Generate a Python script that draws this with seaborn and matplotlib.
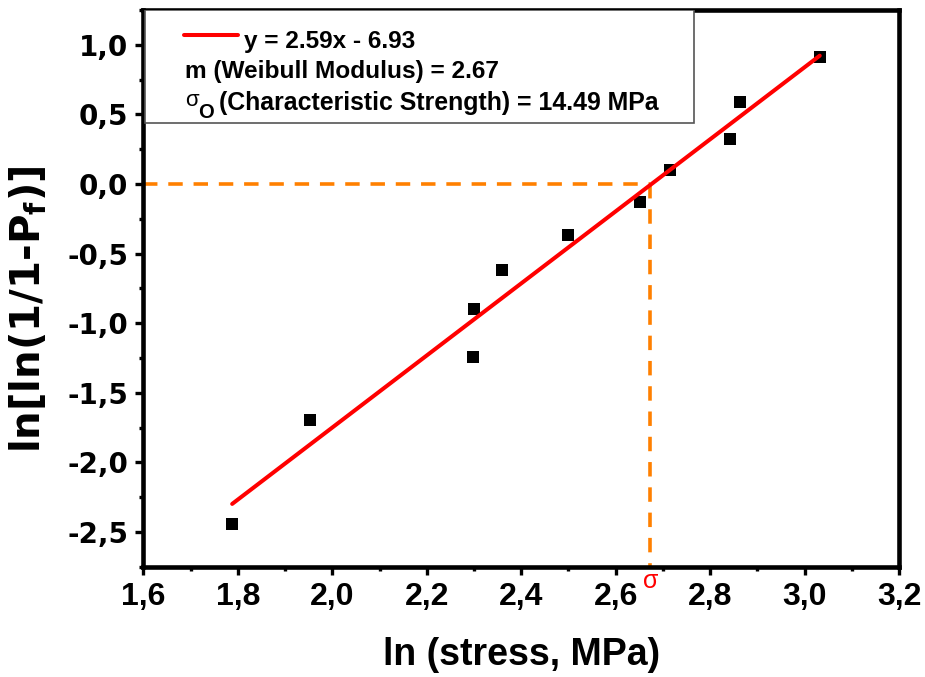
import numpy as np
import matplotlib
matplotlib.use("Agg")
import matplotlib.pyplot as plt
import seaborn as sns
from matplotlib.ticker import MultipleLocator, FuncFormatter
from matplotlib.patches import Rectangle

# Weibull plot data: ln(stress) vs ln(ln(1/(1-Pf)))
ln_stress = [1.788, 1.953, 2.297, 2.301, 2.359, 2.499, 2.651, 2.716, 2.843, 2.863, 3.032]
ln_ln_pf = [-2.440, -1.696, -1.245, -0.900, -0.617, -0.365, -0.127, 0.103, 0.326, 0.587, 0.914]

# Linear fit and derived Weibull parameters
slope = 2.59
intercept = -6.93
weibull_modulus = 2.67
char_strength = 14.49  # MPa

x_ticks = [1.6, 1.8, 2.0, 2.2, 2.4, 2.6, 2.8, 3.0, 3.2]
y_ticks = [-2.5, -2.0, -1.5, -1.0, -0.5, 0.0, 0.5, 1.0]

sns.set_theme(style="ticks")
plt.rcParams["font.family"] = ["Liberation Sans", "DejaVu Sans"]
plt.rcParams.update({
    "font.weight": "bold",
    "text.color": "black",
    "axes.labelcolor": "black",
    "xtick.color": "black",
    "ytick.color": "black",
    "mathtext.fontset": "custom",
    "mathtext.rm": "DejaVu Sans:bold",
    "mathtext.it": "DejaVu Sans:bold",
    "mathtext.bf": "DejaVu Sans:bold",
})

fig = plt.figure(figsize=(9.25, 6.77), dpi=100)
ax = fig.add_axes([0.155, 0.163, 0.817, 0.822])

sns.scatterplot(x=ln_stress, y=ln_ln_pf, marker="s", s=74, color="black",
                linewidth=0, ax=ax, zorder=2)

fit_x = np.array([min(ln_stress), max(ln_stress)])
sns.lineplot(x=fit_x, y=slope * fit_x + intercept, color="red",
             linewidth=2.9, ax=ax, zorder=3)

# characteristic strength guide lines
ln_sigma0 = np.log(char_strength)
ymin, ymax = -2.75, 1.25
xmin, xmax = 1.6, 3.2
orange = "#FF8000"
ax.plot([xmin, ln_sigma0], [0, 0], color=orange, lw=2.6,
        linestyle=(0, (4, 3)), zorder=1)
ax.plot([ln_sigma0, ln_sigma0], [0, ymin], color=orange, lw=2.6,
        linestyle=(0, (4, 3)), zorder=1)
ax.text(ln_sigma0, -0.026, "σ", color="red", fontsize=18, fontweight="normal",
        family="Liberation Sans", ha="center", va="center",
        transform=ax.get_xaxis_transform(), clip_on=False)

ax.set_xlim(xmin, xmax)
ax.set_ylim(ymin, ymax)
ax.set_xticks(x_ticks)
ax.set_yticks(y_ticks)
ax.xaxis.set_minor_locator(MultipleLocator(0.1))
ax.yaxis.set_minor_locator(MultipleLocator(0.25))
comma = FuncFormatter(lambda v, p: f"{v:.1f}".replace(".", ","))
ax.xaxis.set_major_formatter(comma)
ax.yaxis.set_major_formatter(comma)

ax.tick_params(which="major", direction="out", length=6, width=2.4,
               pad=5, color="black", labelcolor="black")
ax.tick_params(which="minor", direction="out", length=3, width=2.4,
               color="black")
for lab in ax.get_xticklabels():
    lab.set_fontfamily(["Liberation Sans"])
    lab.set_fontsize(23)
    lab.set_fontweight("bold")
for lab in ax.get_yticklabels():
    lab.set_fontfamily(["DejaVu Sans"])
    lab.set_fontsize(20)
    lab.set_fontweight("bold")

for sp in ax.spines.values():
    sp.set_visible(True)
    sp.set_linewidth(3.3)
    sp.set_color("black")

ax.set_xlabel("ln (stress, MPa)", fontsize=27, fontweight="bold", color="black")
ax.set_ylabel(r"ln[ln(1/1-P$_{\mathbf{f}}$)]", fontsize=29, fontweight="bold",
              family=["DejaVu Sans"], color="black")
ax.xaxis.set_label_coords(0.5, -0.126)
ax.yaxis.set_label_coords(-0.124, 0.463)

# legend box with fit equation and Weibull parameters
ax.add_patch(Rectangle((0.002, 0.797), 0.726, 0.203, transform=ax.transAxes,
                       facecolor="white", edgecolor="#555555", lw=1.2,
                       zorder=4))
ax.plot([0.0536, 0.1247], [0.9555, 0.9555], color="red", lw=2.9,
        transform=ax.transAxes, zorder=5)
fs = 17.6
ax.text(0.1332, 0.9325, f"y = {slope}x - {abs(intercept)}", fontsize=fs,
        fontweight="bold", va="baseline", ha="left", transform=ax.transAxes,
        zorder=5)
ax.text(0.055, 0.8775, f"m (Weibull Modulus) = {weibull_modulus}", fontsize=fs,
        fontweight="bold", va="baseline", ha="left", transform=ax.transAxes,
        zorder=5)
ax.text(0.0556, 0.8280, "σ", fontsize=16, fontweight="normal",
        va="baseline", ha="left", transform=ax.transAxes, zorder=5)
ax.text(0.0725, 0.807, "O", fontsize=14.5, fontweight="bold",
        va="baseline", ha="left", transform=ax.transAxes, zorder=5)
ax.text(0.1000, 0.8213,
        f"(Characteristic Strength) = {char_strength} MPa",
        fontsize=17.9, fontweight="bold", va="baseline", ha="left",
        transform=ax.transAxes, zorder=5)

fig.savefig("out.png", dpi=100, facecolor="white")
